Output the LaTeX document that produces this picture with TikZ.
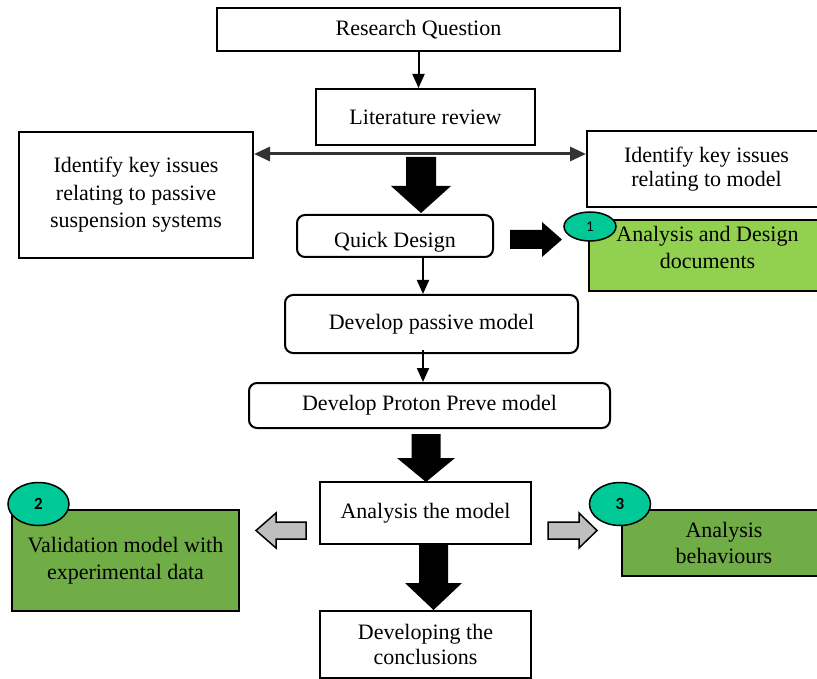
\documentclass[tikz,border=0pt]{standalone}
\usepackage{fontspec}
\setmainfont{Liberation Serif}
\newfontfamily\numfont{Carlito}
\usetikzlibrary{arrows.meta,shapes.geometric}
\definecolor{gA}{HTML}{92D050}
\definecolor{gB}{HTML}{70AD47}
\definecolor{tagc}{HTML}{00C896}
\definecolor{grayA}{HTML}{BFBFBF}
% horizontal block arrow: style, x start, x head base, x tip, y centre, shaft half width, head half width
\newcommand\mkhblk[7]{\path[#1] (#2,#5-#6) -- (#3,#5-#6) -- (#3,#5-#7) -- (#4,#5) -- (#3,#5+#7) -- (#3,#5+#6) -- (#2,#5+#6) -- cycle;}
% vertical block arrow: style, y start, y head base, y tip, x centre, shaft half width, head half width
\newcommand\mkvblk[7]{\path[#1] (#5-#6,#2) -- (#5-#6,#3) -- (#5-#7,#3) -- (#5,#4) -- (#5+#7,#3) -- (#5+#6,#3) -- (#5+#6,#2) -- cycle;}
\begin{document}
\begin{tikzpicture}[x=1pt,y=-1pt,
  box/.style={draw, line width=2, fill=white, inner sep=0, align=center,
    font=\fontsize{22}{27}\selectfont},
  rbox/.style={box, rounded corners=8},
  gboxA/.style={box, fill=gA},
  gboxB/.style={box, fill=gB},
  tag/.style={ellipse, draw, line width=1.5, fill=tagc, inner sep=0},
  conn/.style={line width=2, -{Triangle[length=14,width=12]}},
  blk/.style={fill=black},
  gblk/.style={fill=grayA, draw=black, line width=1.5, line join=miter},
]
\clip (0,0) rectangle (817,679);
\fill[white] (0,0) rectangle (817,679);

% nodes
\node[box, minimum width=403, minimum height=43] (rq) at (418.5,29.5) {Research Question};
\node[box, minimum width=219, minimum height=56] (lit) at (425.5,117) {Literature review};
\node[box, minimum width=234, minimum height=126, font=\fontsize{22}{27.5}\selectfont] (left) at (136,195)
  {Identify key issues\\relating to passive\\suspension systems};
\node[box, minimum width=239, minimum height=76, font=\fontsize{22}{24.5}\selectfont] (right) at (706.5,169)
  {Identify key issues\\relating to model};
\node[rbox, minimum width=196, minimum height=42, text height=24, text depth=0] (qd) at (395,236) {Quick Design};
\node[gboxA, minimum width=237, minimum height=71, text height=36, text depth=10] (g1) at (707.5,255.5)
  {Analysis and Design\\documents};
\node[rbox, minimum width=293, minimum height=58] (dp) at (431.5,324) {Develop passive model};
\node[rbox, minimum width=361, minimum height=45] (pp) at (429.5,405.5) {Develop Proton Preve model};
\node[box, minimum width=211, minimum height=62] (am) at (425.5,513) {Analysis the model};
\node[gboxB, minimum width=227, minimum height=101] (g2) at (125.5,560.5)
  {Validation model with\\experimental data};
\node[gboxB, minimum width=204, minimum height=66, font=\fontsize{22}{26}\selectfont] (g3) at (724,543)
  {Analysis\\behaviours};
\node[box, minimum width=211, minimum height=67, font=\fontsize{22}{25}\selectfont] (cc) at (425.5,644.5)
  {Developing the\\conclusions};

% tags
\node[tag, minimum width=52, minimum height=29, font=\numfont\fontsize{15}{17}\selectfont] (t1) at (590,226.5) {1};
\node[tag, minimum width=61, minimum height=43, font=\numfont\bfseries\fontsize{17}{19}\selectfont] (t2) at (38.5,504) {2};
\node[tag, minimum width=61, minimum height=43, font=\numfont\bfseries\fontsize{17}{19}\selectfont] (t3) at (620,504) {3};

% thin connectors
\coordinate (hl) at (421,154);
\coordinate (ax) at (423,0);
\draw[conn] (rq.south) -- (rq.south |- lit.north);
\draw[line width=3, draw=black!80,
  {Triangle[length=16,width=14]}-{Triangle[length=16,width=14]}]
  (left.east |- hl) -- (right.west |- hl);
\draw[conn] (qd.south -| ax) -- (dp.north -| ax);
\draw[conn] ([yshift=4]dp.south -| ax) -- (pp.north -| ax);

% block arrows
\mkvblk{blk}{157}{186}{213}{421}{15}{30}
\mkhblk{blk}{510}{542}{562}{239.5}{9.5}{17.5}
\mkvblk{blk}{434}{458}{482}{426}{14.5}{29}
\mkvblk{blk}{545}{583}{610}{433.5}{14.5}{28.5}
\mkhblk{gblk}{306}{276}{256}{530.5}{8.5}{17.5}
\mkhblk{gblk}{548}{579}{597}{530.5}{8.5}{17.5}
\end{tikzpicture}
\end{document}
